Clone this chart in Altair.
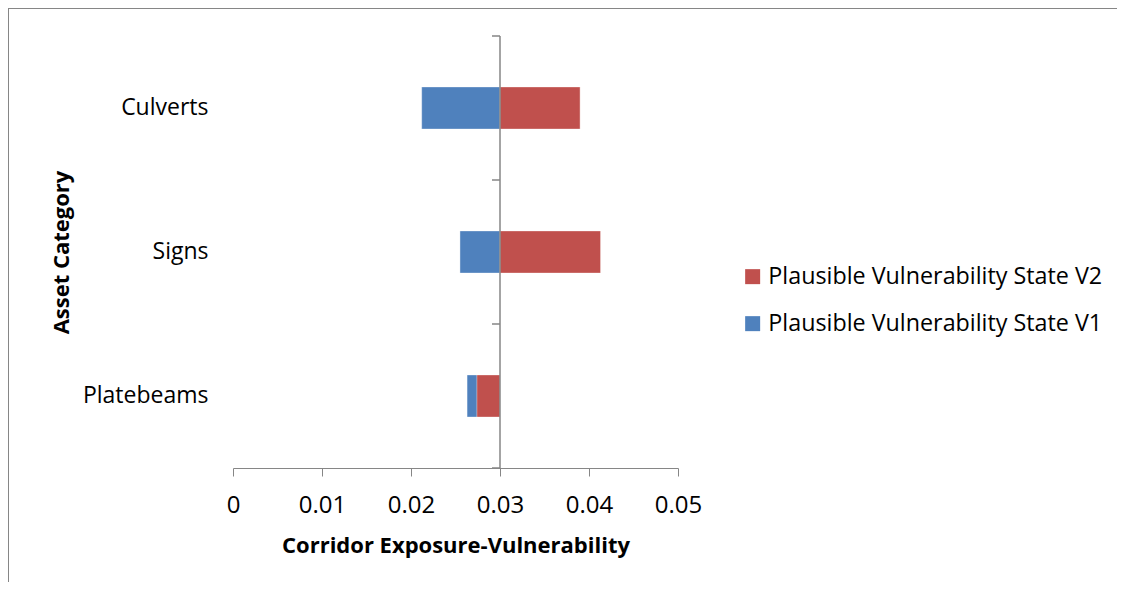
import altair as alt
import pandas as pd

categories = ["Culverts", "Signs", "Platebeams"]
v1_values = [0.0212, 0.0255, 0.0263]
v2_values = [0.0390, 0.0413, 0.0274]
series_names = ["Plausible Vulnerability State V2", "Plausible Vulnerability State V1"]
series_colors = ["#C0504D", "#4F81BD"]
x_ticks = [0, 0.01, 0.02, 0.03, 0.04, 0.05]
crossing = 0.03
band_edges = [0, 1, 2, 3]

rows = []
for c, v in zip(categories, v1_values):
    rows.append({"cat": c, "series": series_names[1], "value": v})
for c, v in zip(categories, v2_values):
    rows.append({"cat": c, "series": series_names[0], "value": v})
df = pd.DataFrame(rows)

FONT = "Open Sans"
GRAY = "#868686"
W, H = 445, 432

xscale = alt.Scale(domain=[0, 0.05], nice=False, zero=False)

bars = alt.Chart(df).mark_bar(stroke="white", strokeOpacity=0.4, strokeWidth=1).encode(
    x=alt.X("value:Q", scale=xscale,
            axis=alt.Axis(values=x_ticks, title="Corridor Exposure-Vulnerability",
                          format="~g", grid=False, domainColor=GRAY, tickColor=GRAY,
                          tickSize=8, labelFontSize=24, labelPadding=17, labelFlush=False,
                          labelColor="#000", titleFontSize=22, titleFontWeight="bold",
                          titleColor="#000", titlePadding=18, labelFont=FONT, titleFont=FONT)),
    x2=alt.datum(crossing),
    y=alt.Y("cat:N", sort=categories,
            scale=alt.Scale(paddingInner=0.707, paddingOuter=0.3535),
            axis=alt.Axis(title="Asset Category", domain=False, ticks=False,
                          labelFontSize=23, labelPadding=25, labelColor="#000",
                          labelFont=FONT, titleFont=FONT, titleFontSize=22,
                          titleFontWeight="bold", titleColor="#000",
                          titleX=-172, titleY=H / 2, titleAngle=-90,
                          titleAlign="center", titleBaseline="middle")),
    color=alt.Color("series:N", scale=alt.Scale(domain=series_names, range=series_colors),
                    legend=alt.Legend(title=None, orient="none", legendX=508, legendY=229,
                                      symbolType="square", symbolSize=225,
                                      symbolStrokeWidth=0, labelFontSize=23.3,
                                      labelFont=FONT, labelColor="#000", labelLimit=0,
                                      labelOffset=4, rowPadding=23)),
)

vline = alt.Chart(pd.DataFrame({"v": [crossing]})).mark_rule(color=GRAY, strokeWidth=1.5).encode(
    x=alt.X("v:Q", scale=xscale),
    y=alt.value(0),
    y2=alt.value(H),
)

ytick = alt.Chart(pd.DataFrame({"b": band_edges})).mark_rule(color=GRAY, strokeWidth=1.5, xOffset=-8).encode(
    x=alt.datum(crossing, scale=xscale),
    x2=alt.datum(crossing),
    y=alt.Y("b:Q", scale=alt.Scale(domain=[0, 3], nice=False, zero=False), axis=None),
)

border = alt.Chart(pd.DataFrame({"b": [0]})).mark_rect(fill=None, stroke=GRAY, strokeWidth=2).encode(
    x=alt.value(-225), x2=alt.value(1000), y=alt.value(-28), y2=alt.value(700),
)

chart = alt.layer(border, bars, vline, ytick).resolve_scale(y="independent").properties(
    width=W, height=H,
    autosize=alt.AutoSizeParams(type="none"),
    padding={"left": 225, "top": 28, "right": 439, "bottom": 114},
).configure(font=FONT).configure_view(strokeWidth=0, stroke="transparent")

chart.save("out.html", embed_options={"renderer": "svg", "actions": False})
